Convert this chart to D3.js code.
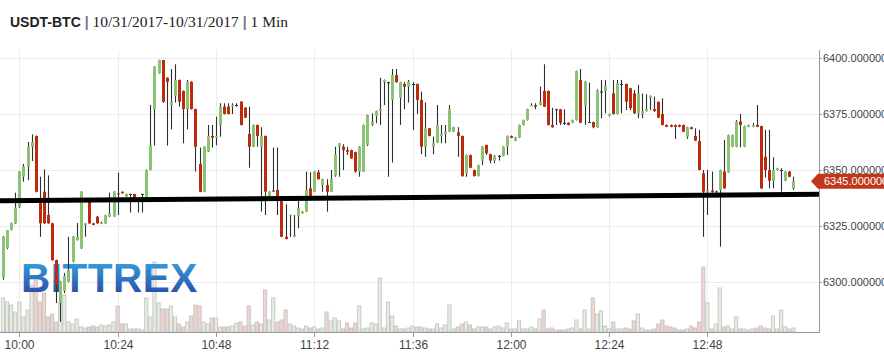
<!DOCTYPE html>
<html>
<head>
<meta charset="utf-8">
<script src="https://cdn.jsdelivr.net/npm/d3@7"></script>
<style>
  body { margin: 0; background: #fff; }
  svg { display: block; }
</style>
</head>
<body>
<div id="chart"></div>
<script>
// USDT-BTC, 1 minute candles from 09:56 onwards
const firstCandle = "09:56";

const opens = [
  6302.1, 6315.1, 6323.2, 6326.2, 6333.4, 6347.0, 6351.5, 6360.4, 6365.2, 6335.9,
  6340.3, 6329.9, 6326.2, 6309.8, 6290.5, 6296.0, 6300.2, 6309.1, 6318.8, 6315.1,
  6325.5, 6335.9, 6326.2, 6329.2, 6326.2, 6326.2, 6329.2, 6329.2, 6339.5, 6340.3,
  6338.1, 6339.3, 6339.3, 6337.4, 6339.3, 6337.4, 6350.0, 6377.2, 6393.2, 6399.1,
  6391.2, 6379.0, 6383.2, 6390.2, 6385.3, 6377.2, 6389.4, 6377.2, 6352.7, 6340.3,
  6358.2, 6365.2, 6364.4, 6370.1, 6378.3, 6378.3, 6378.3, 6379.0, 6380.5, 6377.8,
  6366.1, 6360.4, 6370.1, 6360.4, 6365.2, 6338.4, 6340.8, 6341.1, 6336.2, 6320.2,
  6329.2, 6320.2, 6329.2, 6330.7, 6331.4, 6341.8, 6340.3, 6349.0, 6343.3, 6343.3,
  6340.3, 6347.5, 6360.4, 6360.4, 6358.9, 6358.9, 6358.0, 6349.3, 6349.3, 6361.2,
  6370.1, 6374.1, 6376.3, 6389.2, 6389.2, 6381.3, 6392.4, 6382.3, 6388.4, 6387.2,
  6388.4, 6388.4, 6381.3, 6360.4, 6368.6, 6360.4, 6362.2, 6365.2, 6366.1, 6367.1,
  6367.1, 6366.8, 6365.2, 6348.5, 6356.7, 6350.0, 6347.3, 6354.2, 6361.2, 6357.1,
  6354.2, 6356.3, 6356.3, 6360.4, 6365.2, 6363.1, 6364.6, 6370.1, 6372.3, 6378.7,
  6379.0, 6379.0, 6385.3, 6385.3, 6370.1, 6377.1, 6377.1, 6371.1, 6371.1, 6371.1,
  6372.3, 6390.2, 6379.0, 6371.4, 6371.4, 6369.1, 6385.0, 6385.4, 6374.1, 6384.2,
  6375.0, 6388.4, 6388.4, 6386.5, 6384.2, 6375.3, 6375.0, 6376.3, 6382.3, 6377.2,
  6380.4, 6375.0, 6370.1, 6370.1, 6370.1, 6370.1, 6370.1, 6364.9, 6369.1, 6365.2,
  6362.9, 6348.5, 6340.3, 6340.8, 6340.4, 6341.1, 6349.3, 6349.0, 6360.4, 6360.4,
  6371.6, 6360.4, 6369.3, 6369.3, 6370.1, 6369.6, 6355.9, 6350.0, 6345.2, 6350.0,
  6350.0, 6345.2, 6349.3, 6341.8
];
const highs = [
  6320.6, 6323.2, 6326.5, 6339.9, 6349.5, 6352.7, 6362.5, 6365.9, 6365.4, 6347.0,
  6350.3, 6347.6, 6326.5, 6310.0, 6300.5, 6304.0, 6320.2, 6320.5, 6326.3, 6340.5,
  6326.3, 6336.2, 6326.4, 6329.4, 6327.0, 6330.0, 6339.9, 6340.5, 6348.8, 6340.4,
  6339.5, 6339.4, 6339.4, 6337.5, 6339.4, 6350.2, 6379.0, 6396.3, 6399.2, 6399.2,
  6391.3, 6395.1, 6397.2, 6390.4, 6385.5, 6390.2, 6389.6, 6377.4, 6360.0, 6360.6,
  6370.1, 6370.1, 6373.8, 6379.8, 6379.8, 6379.8, 6379.8, 6379.8, 6380.7, 6378.0,
  6378.3, 6370.3, 6370.3, 6369.1, 6365.4, 6340.5, 6360.0, 6360.0, 6336.4, 6334.7,
  6330.1, 6329.9, 6336.6, 6331.6, 6349.3, 6349.0, 6349.5, 6350.0, 6346.1, 6345.9,
  6350.0, 6360.4, 6362.0, 6361.5, 6360.4, 6359.1, 6358.2, 6360.6, 6370.3, 6374.7,
  6375.3, 6376.5, 6391.2, 6390.4, 6389.4, 6395.1, 6395.1, 6389.4, 6389.2, 6390.2,
  6389.2, 6388.6, 6385.0, 6380.1, 6368.8, 6364.9, 6379.0, 6370.1, 6370.1, 6379.0,
  6369.3, 6369.1, 6365.4, 6356.9, 6356.9, 6350.2, 6352.4, 6360.6, 6361.3, 6357.3,
  6356.7, 6356.7, 6360.6, 6365.4, 6365.4, 6364.8, 6370.3, 6372.5, 6377.4, 6379.8,
  6379.8, 6387.2, 6397.2, 6385.5, 6377.8, 6377.3, 6377.3, 6377.1, 6371.3, 6372.5,
  6394.4, 6395.1, 6389.6, 6389.0, 6371.6, 6386.0, 6390.2, 6390.2, 6375.2, 6390.2,
  6390.2, 6390.2, 6388.6, 6386.7, 6385.7, 6388.0, 6384.2, 6383.8, 6383.3, 6382.8,
  6380.6, 6382.0, 6370.3, 6370.3, 6370.3, 6370.3, 6370.3, 6369.3, 6369.3, 6368.6,
  6367.9, 6350.0, 6350.0, 6349.3, 6340.8, 6350.2, 6363.4, 6365.8, 6365.8, 6372.3,
  6375.0, 6369.8, 6370.3, 6371.0, 6379.0, 6369.8, 6367.9, 6367.9, 6355.7, 6351.0,
  6350.8, 6349.5, 6349.5, 6347.0
];
const lows = [
  6301.0, 6314.6, 6323.0, 6326.0, 6333.0, 6344.8, 6345.5, 6354.0, 6340.0, 6320.2,
  6326.0, 6326.0, 6309.5, 6290.6, 6282.3, 6295.0, 6299.8, 6308.8, 6318.5, 6314.8,
  6320.2, 6325.9, 6325.3, 6326.0, 6325.8, 6326.0, 6329.0, 6329.0, 6329.9, 6339.5,
  6338.0, 6331.0, 6337.3, 6331.0, 6331.0, 6337.2, 6349.8, 6360.9, 6393.0, 6379.9,
  6360.9, 6368.2, 6380.1, 6378.3, 6361.9, 6368.2, 6377.0, 6349.3, 6340.1, 6340.1,
  6358.0, 6360.0, 6361.0, 6364.9, 6374.8, 6374.8, 6375.0, 6378.3, 6369.9, 6373.2,
  6351.0, 6360.2, 6360.4, 6331.4, 6329.9, 6338.2, 6340.6, 6329.9, 6320.0, 6319.0,
  6320.2, 6320.0, 6324.0, 6330.5, 6331.2, 6336.7, 6340.1, 6345.7, 6340.3, 6331.4,
  6340.1, 6347.0, 6347.0, 6350.0, 6356.7, 6355.0, 6348.8, 6347.0, 6349.1, 6360.7,
  6369.6, 6370.9, 6370.1, 6379.0, 6347.0, 6353.3, 6389.0, 6370.1, 6377.1, 6380.1,
  6367.9, 6375.0, 6357.0, 6355.9, 6365.0, 6357.0, 6362.0, 6361.9, 6361.9, 6366.9,
  6366.9, 6355.9, 6347.0, 6347.0, 6350.8, 6347.1, 6347.1, 6352.2, 6356.7, 6353.0,
  6353.0, 6354.2, 6356.1, 6356.7, 6364.2, 6362.9, 6364.4, 6369.9, 6372.1, 6378.6,
  6377.1, 6378.8, 6378.1, 6369.9, 6368.9, 6370.1, 6370.1, 6370.1, 6369.9, 6370.9,
  6372.1, 6370.9, 6370.1, 6371.1, 6368.6, 6368.9, 6373.1, 6375.3, 6373.9, 6374.8,
  6374.8, 6375.3, 6376.8, 6376.8, 6375.1, 6373.1, 6373.1, 6376.1, 6376.8, 6376.0,
  6373.2, 6369.9, 6369.1, 6369.1, 6363.9, 6369.1, 6366.9, 6363.9, 6368.1, 6362.9,
  6349.8, 6320.2, 6329.9, 6339.9, 6340.0, 6315.8, 6341.6, 6348.8, 6360.2, 6360.2,
  6360.1, 6360.2, 6369.1, 6369.1, 6369.1, 6341.6, 6346.6, 6341.8, 6341.8, 6349.8,
  6340.3, 6345.0, 6346.8, 6341.1
];
const closes = [
  6320.2, 6323.2, 6326.3, 6333.2, 6349.3, 6351.5, 6360.4, 6362.5, 6340.3, 6326.2,
  6326.2, 6326.2, 6309.8, 6298.7, 6300.2, 6302.7, 6305.4, 6320.2, 6320.2, 6340.3,
  6326.2, 6326.2, 6325.5, 6326.2, 6326.4, 6329.9, 6330.7, 6340.3, 6339.3, 6339.6,
  6339.3, 6339.3, 6337.4, 6337.4, 6339.3, 6350.0, 6361.2, 6396.1, 6399.1, 6380.5,
  6389.4, 6380.5, 6390.2, 6380.5, 6377.2, 6389.4, 6377.2, 6360.4, 6340.3, 6360.4,
  6365.2, 6364.4, 6365.2, 6378.3, 6375.0, 6375.0, 6379.0, 6379.0, 6370.1, 6373.4,
  6360.4, 6370.1, 6365.2, 6365.2, 6340.3, 6340.3, 6340.8, 6338.4, 6320.2, 6319.2,
  6329.9, 6321.0, 6332.9, 6331.4, 6341.1, 6336.9, 6349.3, 6345.9, 6345.9, 6340.3,
  6345.9, 6357.0, 6361.9, 6358.9, 6358.2, 6355.2, 6349.3, 6360.4, 6370.1, 6374.5,
  6371.6, 6376.3, 6377.2, 6390.2, 6389.2, 6392.4, 6389.2, 6389.2, 6387.2, 6389.4,
  6388.4, 6381.3, 6360.4, 6368.6, 6365.2, 6361.9, 6370.1, 6366.1, 6367.1, 6377.2,
  6369.1, 6365.2, 6347.3, 6356.7, 6351.0, 6347.3, 6352.2, 6360.4, 6357.5, 6354.2,
  6356.3, 6356.3, 6360.4, 6365.2, 6364.4, 6364.6, 6370.1, 6372.3, 6377.2, 6378.8,
  6378.3, 6380.5, 6378.3, 6370.1, 6369.1, 6377.1, 6371.1, 6371.1, 6370.1, 6372.3,
  6394.2, 6371.1, 6389.4, 6371.4, 6369.1, 6385.4, 6385.0, 6387.5, 6375.0, 6375.0,
  6388.7, 6388.4, 6380.5, 6377.6, 6375.3, 6384.2, 6376.3, 6377.2, 6383.1, 6376.3,
  6373.4, 6370.1, 6369.3, 6369.3, 6369.3, 6369.3, 6367.1, 6369.1, 6368.3, 6363.1,
  6350.0, 6340.3, 6340.8, 6340.1, 6340.4, 6350.0, 6341.8, 6365.6, 6365.6, 6371.6,
  6370.1, 6369.6, 6370.1, 6370.1, 6369.3, 6341.8, 6350.0, 6345.2, 6350.0, 6350.8,
  6350.0, 6349.3, 6347.0, 6345.0
];
// traded volume per minute (relative units)
const volumes = [
  34, 30, 27, 20, 30, 15, 22, 47, 52, 30,
  39, 15, 18, 10, 29, 37, 10, 8, 13, 5,
  4, 5, 6, 5, 7, 6, 7, 10, 26, 8,
  8, 3, 3, 3, 2, 34, 15, 70, 29, 23,
  23, 26, 15, 8, 5, 10, 16, 27, 26, 10,
  8, 14, 14, 5, 5, 5, 6, 9, 10, 6,
  26, 7, 10, 8, 42, 12, 34, 10, 12, 22,
  8, 6, 4, 3, 6, 4, 5, 3, 4, 20,
  11, 14, 11, 3, 9, 4, 9, 26, 3, 4,
  9, 8, 54, 4, 30, 16, 6, 3, 3, 4,
  6, 5, 5, 4, 3, 3, 8, 4, 7, 27,
  3, 5, 8, 10, 7, 3, 5, 5, 5, 3,
  5, 6, 4, 9, 3, 3, 11, 3, 3, 5,
  3, 13, 22, 3, 4, 2, 2, 2, 3, 4,
  12, 3, 22, 3, 34, 18, 21, 6, 3, 10,
  3, 3, 4, 3, 11, 18, 4, 2, 2, 3,
  8, 12, 6, 5, 4, 2, 2, 3, 6, 4,
  10, 65, 29, 3, 8, 44, 5, 6, 3, 15,
  3, 3, 2, 3, 4, 6, 4, 3, 16, 3,
  22, 5, 3, 4
];

const timeWindow = ["09:55:17", "13:15:14"];
const tickLabels = ["10:00", "10:24", "10:48", "11:12", "11:36", "12:00", "12:24", "12:48"];
const priceTicks = [6300, 6325, 6350, 6375, 6400];
// hand drawn support line, price at the left and right edge
const trendPrices = [6336.3, 6339.2];

const W = 884, H = 352;
const plot = { left: 0, right: 819, top: 50, bottom: 332 };

const parse = s => {
  const p = s.split(":").map(Number);
  return new Date(2017, 9, 31, p[0], p[1], p[2] || 0);
};

const t0 = parse(firstCandle);
const candles = opens.map((o, i) => ({
  time: d3.timeMinute.offset(t0, i),
  open: o, high: highs[i], low: lows[i], close: closes[i], volume: volumes[i]
}));

const x = d3.scaleTime()
  .domain(timeWindow.map(parse))
  .range([plot.left, plot.right]);
const y = d3.scaleLinear()
  .domain([6300, 6400])
  .range([282, 58]);
const v = d3.scaleLinear()
  .domain([0, 70])
  .range([plot.bottom, plot.bottom - 70]);

const svg = d3.select('#chart').append('svg')
  .attr('width', W).attr('height', H)
  .style('font-family', '"Liberation Sans", Arial, sans-serif');

// title
const serif = '"Liberation Serif", "DejaVu Serif", serif';
const title = svg.append('text').attr('x', 10).attr('y', 27)
  .style('font-size', '14px').attr('fill', '#222');
title.append('tspan').text('USDT-BTC').style('font-weight', 'bold');
title.append('tspan').text(' |').attr('fill', '#777').style('font-weight', 'bold');
title.append('tspan').text(' 10/31/2017-10/31/2017 ')
  .style('font-family', serif).style('font-size', '15.5px');
title.append('tspan').text('|').attr('fill', '#777').style('font-weight', 'bold');
title.append('tspan').text(' 1 Min')
  .style('font-family', serif).style('font-size', '15.5px');

// grid
const grid = svg.append('g').attr('stroke', '#ececec').attr('stroke-width', 1);
grid.selectAll('line.h').data(priceTicks).join('line')
  .attr('x1', plot.left).attr('x2', plot.right)
  .attr('y1', d => Math.round(y(d)) + 0.5).attr('y2', d => Math.round(y(d)) + 0.5);
grid.selectAll('line.v').data(tickLabels).join('line')
  .attr('x1', d => Math.round(x(parse(d))) + 0.5).attr('x2', d => Math.round(x(parse(d))) + 0.5)
  .attr('y1', plot.top).attr('y2', plot.bottom);

const up = d => d.close > d.open;
const down = d => d.close < d.open;

// volume
svg.append('g').selectAll('rect').data(candles).join('rect')
  .attr('x', d => x(d.time) - 1.6)
  .attr('width', 3.2)
  .attr('y', d => v(d.volume))
  .attr('height', d => plot.bottom - v(d.volume))
  .attr('fill', d => down(d) ? '#f3d3ce' : '#e6efde')
  .attr('stroke', '#c4c4c4')
  .attr('stroke-width', 0.9);

// logo
const defs = svg.append('defs');
const lg = defs.append('linearGradient').attr('id', 'logo-grad')
  .attr('x1', 0).attr('y1', 0).attr('x2', 0).attr('y2', 1);
lg.append('stop').attr('offset', '0%').attr('stop-color', '#36b0ea');
lg.append('stop').attr('offset', '100%').attr('stop-color', '#2a3c9c');
svg.append('text').attr('x', 21).attr('y', 292)
  .text('BITTREX')
  .style('font-size', '40.5px').style('font-weight', 'bold')
  .style('letter-spacing', '0.5px')
  .attr('fill', 'url(#logo-grad)');

// candles
const cg = svg.append('g');
cg.selectAll('line').data(candles).join('line')
  .attr('x1', d => Math.round(x(d.time)) + 0.5).attr('x2', d => Math.round(x(d.time)) + 0.5)
  .attr('y1', d => y(d.high)).attr('y2', d => y(d.low))
  .attr('stroke', '#2b3133').attr('stroke-width', 1.1);
cg.selectAll('rect').data(candles).join('rect')
  .attr('x', d => Math.round(x(d.time)) - 1)
  .attr('width', 3)
  .attr('y', d => y(Math.max(d.open, d.close)))
  .attr('height', d => Math.max(1, Math.abs(y(d.open) - y(d.close))))
  .attr('fill', d => up(d) ? '#8cc273' : down(d) ? '#bf2a0d' : '#2b3133');

// trend line
svg.append('line')
  .attr('x1', plot.left).attr('x2', plot.right)
  .attr('y1', y(trendPrices[0])).attr('y2', y(trendPrices[1]))
  .attr('stroke', '#000').attr('stroke-width', 5);

// x axis
const xa = svg.append('g');
xa.append('line').attr('x1', plot.left).attr('x2', plot.right)
  .attr('y1', plot.bottom + 0.5).attr('y2', plot.bottom + 0.5)
  .attr('stroke', '#999');
const xt = xa.selectAll('g').data(tickLabels).join('g')
  .attr('transform', d => `translate(${Math.round(x(parse(d))) + 0.5},${plot.bottom})`);
xt.append('line').attr('y1', 0).attr('y2', 5).attr('stroke', '#999');
xt.append('text').attr('y', 17).attr('text-anchor', 'middle')
  .style('font-size', '12px').attr('fill', '#444').text(d => d);

// y axis (right)
const ya = svg.append('g');
ya.append('line').attr('x1', plot.right + 0.5).attr('x2', plot.right + 0.5)
  .attr('y1', plot.top).attr('y2', plot.bottom + 1).attr('stroke', '#999');
const yt = ya.selectAll('g').data(priceTicks).join('g')
  .attr('transform', d => `translate(${plot.right},${Math.round(y(d)) + 0.5})`);
yt.append('line').attr('x1', 0).attr('x2', 3).attr('stroke', '#999');
yt.append('text').attr('x', 4).attr('dy', '0.35em')
  .style('font-size', '11px').attr('fill', '#444').text(d => d.toFixed(6));

// last price flag
const last = candles[candles.length - 1].close;
const ly = y(last);
svg.append('path')
  .attr('d', `M811,${ly} L818,${ly - 7.5} L884,${ly - 7.5} L884,${ly + 7.5} L818,${ly + 7.5} Z`)
  .attr('fill', '#c2361a');
svg.append('text').attr('x', 824).attr('y', ly).attr('dy', '0.35em')
  .style('font-size', '11px').attr('fill', '#fff').text(last.toFixed(6));
</script>
</body>
</html>
